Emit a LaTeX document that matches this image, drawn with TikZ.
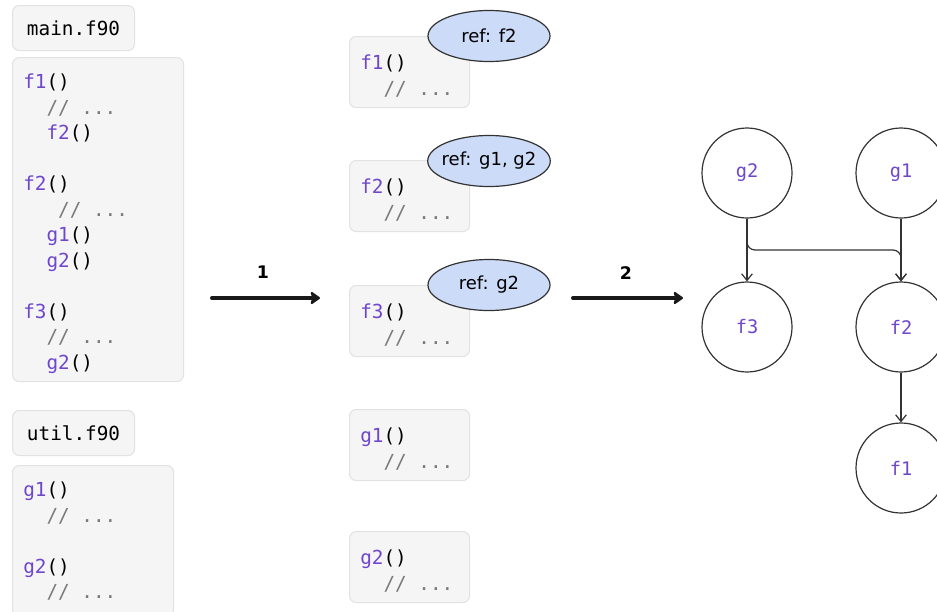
\documentclass[tikz,border=0pt]{standalone}
\usepackage{fontspec}
\setmainfont{DejaVu Sans}
\setmonofont{DejaVu Sans Mono}
\usetikzlibrary{arrows.meta,shapes.geometric}

\definecolor{codebg}{HTML}{F5F5F5}
\definecolor{codeline}{HTML}{E2E2E2}
\definecolor{fncol}{HTML}{6F47CC}
\definecolor{cmcol}{HTML}{7A7A7A}
\definecolor{refbg}{HTML}{CCDCF8}
\definecolor{inkcol}{HTML}{333333}

\newcommand{\px}{0.75pt}
\newcommand{\fn}[1]{\textcolor{fncol}{#1}()}
\newcommand{\cm}{\textcolor{cmcol}{// ...}}
\newcommand{\ind}{\phantom{xx}}

\tikzset{
    codebox/.style={draw=codeline, fill=codebg, rounded corners=5pt, line width=0.8pt,
        anchor=north west, inner sep=0pt},
    codetext/.style={anchor=north west, align=left, inner sep=0pt,
        font=\ttfamily\fontsize{14.5}{19.1}\selectfont},
    filebox/.style={codebox, minimum width=122*\px, minimum height=45*\px,
        font=\ttfamily\fontsize{14.5}{19}\selectfont},
    midbox/.style={codebox, minimum width=120*\px, minimum height=71*\px},
    refnode/.style={ellipse, draw=inkcol, fill=refbg, line width=0.9pt,
        inner xsep=-3pt, inner ysep=0pt,
        minimum width=122*\px, minimum height=51*\px, font=\fontsize{13.5}{16}\selectfont},
    fnode/.style={circle, draw=inkcol, line width=0.9pt, minimum size=90*\px, inner sep=0pt,
        text=fncol, font=\ttfamily\fontsize{14}{16}\selectfont},
    stagearrow/.style={line width=3pt, line cap=round, draw=black!90,
        -{Stealth[round, length=8pt, width=11pt, inset=1.5pt]}},
    stagelabel/.style={font=\bfseries\fontsize{13}{16}\selectfont},
    call/.style={draw=inkcol, line width=0.9pt, -{Straight Barb[length=5pt, width=8pt]}},
}

\begin{document}
\begin{tikzpicture}[x=0.75pt, y=-0.75pt]
    \clip (0,0) rectangle (937,611);

    % source files
    \node [filebox] (mainname) at (12,5) {main.f90};
    \node [codebox, minimum width=171*\px, minimum height=324*\px] (mainbox) at (12,57) {};
    \node [codetext] (maincode) at ([shift={(11,17)}]mainbox.north west)
        {\fn{f1}\\ \ind\cm\\ \ind\fn{f2}\\ \strut\\
         \fn{f2}\\ \ind\phantom{x}\cm\\ \ind\fn{g1}\\ \ind\fn{g2}\\ \strut\\
         \fn{f3}\\ \ind\cm\\ \ind\fn{g2}};
    \node [filebox] (utilname) at (12,410) {util.f90};
    \node [codebox, minimum width=161*\px, minimum height=150*\px] (utilbox) at (12,465) {};
    \node [codetext] (utilcode) at ([shift={(11,17)}]utilbox.north west)
        {\fn{g1}\\ \ind\cm\\ \strut\\ \fn{g2}\\ \ind\cm};

    % split functions
    \node [midbox] (f1box) at (349,36) {};
    \node [codetext] (f1code) at ([shift={(11,19)}]f1box.north west) {\fn{f1}\\ \ind\cm};
    \node [midbox] (f2box) at (349,160) {};
    \node [codetext] (f2code) at ([shift={(11,19)}]f2box.north west) {\fn{f2}\\ \ind\cm};
    \node [midbox] (f3box) at (349,285) {};
    \node [codetext] (f3code) at ([shift={(11,19)}]f3box.north west) {\fn{f3}\\ \ind\cm};
    \node [midbox] (g1box) at (349,409) {};
    \node [codetext] (g1code) at ([shift={(11,19)}]g1box.north west) {\fn{g1}\\ \ind\cm};
    \node [midbox] (g2box) at (349,531) {};
    \node [codetext] (g2code) at ([shift={(11,19)}]g2box.north west) {\fn{g2}\\ \ind\cm};

    \node [refnode] (f1ref) at (489,36) {ref: f2};
    \node [refnode] (f2ref) at (489,161) {ref: g1, g2};
    \node [refnode] (f3ref) at (489,285) {ref: g2};

    % stages
    \coordinate (s1from) at (212,298);
    \coordinate (s1to) at (320,298);
    \coordinate (s2from) at (573,298);
    \coordinate (s2to) at (683,298);
    \draw [stagearrow] (s1from) -- (s1to);
    \draw [stagearrow] (s2from) -- (s2to);
    \node [stagelabel] (one) at (263,272) {1};
    \node [stagelabel] (two) at (626,273) {2};

    % call graph
    \node [fnode] (g2) at (747,173) {g2};
    \node [fnode] (g1) at (901,173) {g1};
    \node [fnode] (f3) at (747,327) {f3};
    \node [fnode] (f2) at (901,327) {f2};
    \node [fnode] (f1) at (901,468) {f1};
    \coordinate (bend) at (901,250);
    \draw [call] (g2) -- (f3);
    \draw [call] (g1) -- (f2);
    \draw [call, rounded corners=6pt] (g2.south) |- (bend) -- (f2.north);
    \draw [call] (f2) -- (f1);
\end{tikzpicture}
\end{document}
